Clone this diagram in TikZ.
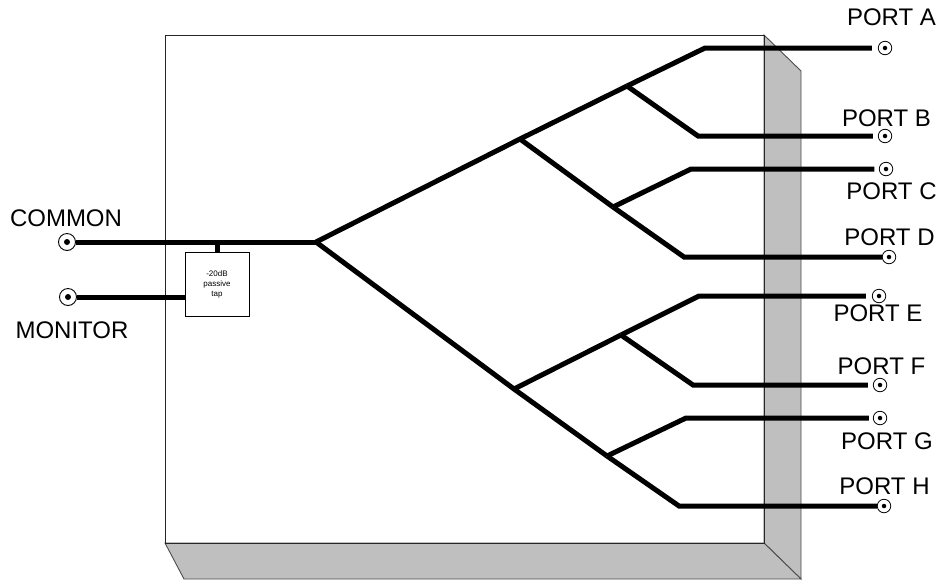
\documentclass[tikz,border=0pt]{standalone}
\usepackage{fontspec}
\setmainfont{Liberation Sans}
\tikzset{
  x=1pt,y=-1pt,
  face/.style={draw=black!85,line width=0.9pt},
  sidef/.style={draw=black!70,line width=0.9pt,fill=black!25},
  wire/.style={line width=5pt,line join=miter,shorten >=#1},
  wire/.default=0pt,
  portc/.style={draw=black,fill=white,circle,inner sep=0pt,line width=0.8pt,minimum size=13.5pt},
  bigc/.style={draw=black,fill=white,circle,inner sep=0pt,line width=0.9pt,minimum size=17pt},
  dot/.style={fill=black,circle,inner sep=0pt,minimum size=#1},
  lab/.style={font=\fontsize{24}{24}\selectfont,inner sep=0pt,anchor=center},
  tap/.style={draw=black,fill=white,line width=0.9pt,minimum size=64pt,inner sep=0pt,align=center,font=\fontsize{8}{10}\selectfont},
}
\begin{document}
\begin{tikzpicture}
\useasboundingbox (0,0) rectangle (941,582);
% enclosure
\coordinate (tl) at (165,35);
\coordinate (tr) at (764,35);
\coordinate (bl) at (165,543);
\coordinate (br) at (764,543);
\coordinate (otr) at (801,71);
\coordinate (obr) at (801,579);
\coordinate (obl) at (184,579);
\draw[sidef] (tr) -- (otr) -- (obr) -- (br) -- cycle;
\draw[sidef] (bl) -- (br) -- (obr) -- (obl) -- cycle;
\draw[face] (tl) -- (tr) -- (br) -- (bl) -- cycle;
% junctions
\coordinate (root) at (316,242);
\coordinate (j1) at (520,139);
\coordinate (j2) at (514,389);
\coordinate (j11) at (627,86);
\coordinate (j12) at (613,207);
\coordinate (j21) at (621,335);
\coordinate (j22) at (607,456);
% ports
\node[bigc] (pcom) at (67,242) {};
\node[dot=6pt] at (pcom.center) {};
\node[bigc] (pmon) at (68,297) {};
\node[dot=6pt] at (pmon.center) {};
\foreach \n/\x/\y in {a/885/48,b/885/136,c/886/169,d/889/257,e/879/296,f/880/385,g/880/418,h/884/506}{
  \node[portc] (p\n) at (\x,\y) {};
  \node[dot=4.5pt] at (p\n.center) {};
}
% tap
\node[tap] (tapbox) at (217,284) {-20dB\\passive\\tap};
% wires
\draw[wire] (pcom) -- (root);
\draw[wire] (pmon) -- (tapbox.west |- pmon);
\draw[wire] (tapbox.north) -- (tapbox.north |- root);
\draw[wire] (root) -- (j1) -- (j11);
\draw[wire] (root) -- (j2) -- (j22);
\draw[wire] (j1) -- (j12);
\draw[wire] (j2) -- (j21);
\draw[wire=6pt] (j11) -- (705,48 |- pa) -- (pa);
\draw[wire=5pt] (j11) -- (698,136 |- pb) -- (pb);
\draw[wire=4.5pt] (j12) -- (691,169 |- pc) -- (pc);
\draw[wire] (j12) -- (684,257 |- pd) -- (pd);
\draw[wire=6pt] (j21) -- (699,296 |- pe) -- (pe);
\draw[wire=5pt] (j21) -- (693,385 |- pf) -- (pf);
\draw[wire=4pt] (j22) -- (686,418 |- pg) -- (pg);
\draw[wire] (j22) -- (679,506 |- ph) -- (ph);
% labels
\node[lab] (lcom) at (66,218) {COMMON};
\node[lab] (lmon) at (72,330) {MONITOR};
\node[lab] (la) at (891.5,17) {PORT A};
\node[lab] (lb) at (886.5,118) {PORT B};
\node[lab] (lc) at (891.5,191) {PORT C};
\node[lab] (ld) at (889.5,237) {PORT D};
\node[lab] (le) at (878,313) {PORT E};
\node[lab] (lf) at (881.5,366) {PORT F};
\node[lab] (lg) at (887,441) {PORT G};
\node[lab] (lh) at (884.5,486) {PORT H};
\end{tikzpicture}
\end{document}
